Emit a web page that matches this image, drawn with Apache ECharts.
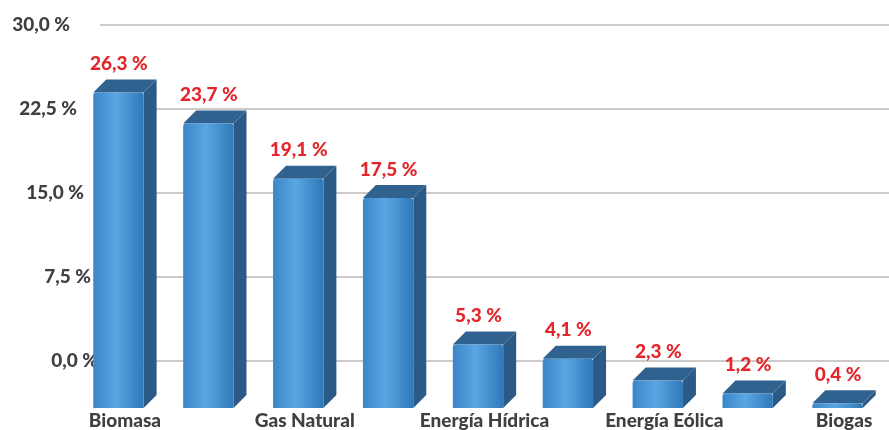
<!DOCTYPE html>
<html><head><meta charset="utf-8">
<script src="https://cdn.jsdelivr.net/npm/echarts@6/dist/echarts.min.js"></script>
<style>html,body{margin:0;padding:0;background:#fff}#c{width:889px;height:430px}</style>
</head><body><div id="c"></div>
<script>
const categories = ['Biomasa','Petróleo','Gas Natural','Carbón','Energía Hídrica','Energía Solar','Energía Eólica','Residuos','Biogas'];
const values = [26.3, 23.7, 19.1, 17.5, 5.3, 4.1, 2.3, 1.2, 0.4];
const yTicks = [0, 7.5, 15, 22.5, 30];

const fmt = v => v.toFixed(1).replace('.', ',') + ' %';
const labFont = {color: '#404040', fontFamily: 'Lato', fontWeight: 900, fontSize: 19};
const rich = {};
yTicks.forEach((t, i) => { rich['t' + i] = Object.assign({padding: [0, 2 + i * 7, 0, 0]}, labFont); });
const chart = echarts.init(document.getElementById('c'));
chart.setOption({
  backgroundColor: '#fff',
  animation: false,
  grid: [
    {left: 100, right: 0, top: 25, bottom: 69},
    {left: 80, right: 0, top: 48, bottom: 22}
  ],
  xAxis: [
    {gridIndex: 0, type: 'category', data: categories, show: false},
    {gridIndex: 1, type: 'category', data: categories,
     axisLine: {show: false}, axisTick: {show: false},
     axisLabel: Object.assign({interval: 1, margin: 3}, labFont)}
  ],
  yAxis: [
    {gridIndex: 0, type: 'value', min: yTicks[0], max: yTicks[yTicks.length-1], interval: 7.5,
     axisLine: {show: false}, axisTick: {show: false},
     splitLine: {lineStyle: {color: '#cfcaca', width: 2}},
     axisLabel: {margin: 0, rich: rich,
       formatter: v => '{t' + yTicks.indexOf(v) + '|' + fmt(v) + '}'}},
    {gridIndex: 1, type: 'value', min: 0, max: 30, show: false, splitLine: {show: false}}
  ],
  series: [{
    type: 'custom',
    xAxisIndex: 1, yAxisIndex: 1,
    data: values.map((v, i) => [i, v]),
    clip: false,
    renderItem: function (params, api) {
      const base = api.coord([api.value(0), 0]);
      const top = api.coord([api.value(0), api.value(1)]);
      const w = api.size([1, 0])[0] * 0.56;
      const d = 13;
      const x = base[0] - w / 2 - d / 2;
      const yb = base[1], yt = top[1];
      return {
        type: 'group',
        children: [
          {type: 'polygon', shape: {points: [[x + w, yt], [x + w + d, yt - d], [x + w + d, yb - d], [x + w, yb]]},
           style: {fill: '#2c5a86'}},
          {type: 'polygon', shape: {points: [[x, yt], [x + d, yt - d], [x + w + d, yt - d], [x + w, yt]]},
           style: {fill: '#30628f'}},
          {type: 'rect', shape: {x: x, y: yt, width: w, height: yb - yt, r: [3, 3, 0, 0]},
           style: {fill: new echarts.graphic.LinearGradient(0, 0, 1, 0, [
             {offset: 0, color: '#3a86c8'}, {offset: 0.45, color: '#5aa6e2'}, {offset: 1, color: '#2f78b9'}])}},
          {type: 'text', x: x + (w + d) / 2 - 6, y: yt - d - 6,
           style: {text: fmt(api.value(1)), fill: '#e3262b', font: '900 19px Lato', align: 'center', verticalAlign: 'bottom'}}
        ]
      };
    }
  }]
});
</script></body></html>
